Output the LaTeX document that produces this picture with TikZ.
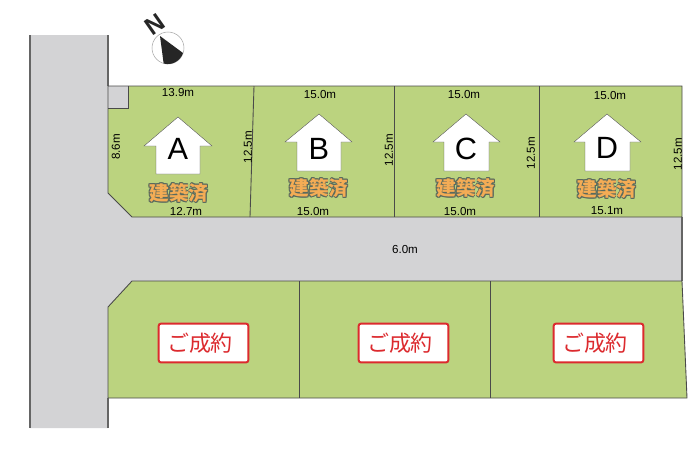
\documentclass[tikz,border=0pt]{standalone}
\usepackage{fontspec}
\setmainfont{Liberation Sans}
\newfontfamily\cjkfont{Noto Sans CJK JP}
\usepackage{tikz}
\definecolor{lotgreen}{HTML}{BBD37F}
\definecolor{roadgrey}{HTML}{D3D3D5}
\definecolor{edgegrey}{HTML}{4A4A4A}
\definecolor{soldred}{HTML}{DC2A2E}
\definecolor{builtorange}{HTML}{F4AC55}
\definecolor{builtedge}{HTML}{5A6A5E}
\tikzset{
  lot/.style={fill=lotgreen,draw=none},
  lotedge/.style={draw=edgegrey,line width=0.5pt},
  road/.style={fill=roadgrey,draw=none},
  roadedge/.style={draw=edgegrey!85,line width=0.85pt},
  house/.style={fill=white,draw=edgegrey,line width=0.2pt},
  letter/.style={inner sep=0pt,font=\fontsize{17.5}{18}\selectfont},
  dim/.style={inner sep=0pt,text=black,font=\fontsize{6.6}{7}\selectfont},
  soldbox/.style={draw=soldred,fill=white,line width=1.1pt,rounded corners=1.2pt,
    minimum width=51pt,minimum height=22pt,inner sep=0pt},
  soldtext/.style={inner sep=0pt,text=soldred,font=\cjkfont\fontsize{12.5}{13}\selectfont},
  built/.style={inner sep=0pt,font=\cjkfont\bfseries\fontsize{11.2}{12}\selectfont}
}
\newcommand{\builtlabel}[2]{%
  \foreach \dx/\dy in {-0.6/0,0.6/0,0/-0.6,0/0.6,-0.6/-0.6,0.6/-0.6,-0.6/0.6,0.6/0.6}
    \node [built,text=builtedge] at ([shift={(\dx,\dy)}]#2) {建築済};
  \node [built,text=builtorange] (#1) at (#2) {建築済};
}
\begin{document}
\begin{tikzpicture}[x=0.02cm,y=0.02cm]
\useasboundingbox (0,0) rectangle (700,-461);
% road
\fill [road] (30,-35) -- (108,-35) -- (108,-193) -- (132,-217) -- (682,-217) -- (682,-281) -- (132,-281) -- (108,-307) -- (108,-428) -- (30,-428) -- cycle;
\draw [roadedge] (30,-35) -- (30,-428);
\draw [roadedge] (108,-35) -- (108,-86);
\draw [roadedge] (108,-398) -- (108,-428);
\draw [roadedge] (682,-217) -- (682,-281);
% upper lots
\fill [lot] (108,-86) -- (682,-86) -- (682,-217) -- (132,-217) -- (108,-193) -- cycle;
\fill [road] (108,-86) rectangle (128,-108);
\draw [lotedge] (108,-108) -- (128,-108) -- (128,-86);
\draw [lotedge] (108,-86) -- (682,-86) -- (682,-217) -- (132,-217) -- (108,-193) -- cycle;
\draw [lotedge] (254,-86) -- (250,-217);
\draw [lotedge] (394,-86) -- (394,-217);
\draw [lotedge] (539,-86) -- (539,-217);
% lower lots
\fill [lot] (132,-281) -- (682,-281) -- (687,-398) -- (108,-398) -- (108,-307) -- cycle;
\draw [lotedge] (132,-281) -- (682,-281) -- (687,-398) -- (108,-398) -- (108,-307) -- cycle;
\draw [lotedge] (299,-281) -- (299,-398);
\draw [lotedge] (490,-281) -- (490,-398);
% compass
\draw [gray!70,line width=0.3pt,fill=white] (168,-48) circle (16);
\fill [black!85] (160,-36) -- (183,-53) arc (-18:-105:16) -- cycle;
\node [inner sep=0pt,rotate=35,font=\bfseries\fontsize{14}{14}\selectfont,text=black!85] (north) at (155,-24) {N};
% houses
\draw [house] (178,-117) -- (212,-146) -- (200,-146) -- (200,-174) -- (156,-174) -- (156,-146) -- (144,-146) -- cycle;
\draw [house] (319,-114) -- (352,-142) -- (341,-142) -- (341,-171) -- (297,-171) -- (297,-142) -- (285,-142) -- cycle;
\draw [house] (466,-114) -- (500,-142) -- (489,-142) -- (489,-171) -- (444,-171) -- (444,-142) -- (433,-142) -- cycle;
\draw [house] (607,-114) -- (641,-142) -- (630,-142) -- (630,-171) -- (585,-171) -- (585,-142) -- (574,-142) -- cycle;
\node [letter] (lotA) at (178,-149) {A};
\node [letter] (lotB) at (319,-149) {B};
\node [letter] (lotC) at (466,-149) {C};
\node [letter] (lotD) at (607,-148) {D};
\builtlabel{builtA}{179,-193}
\builtlabel{builtB}{319,-188}
\builtlabel{builtC}{466,-188}
\builtlabel{builtD}{607,-189}
% dimensions
\node [dim] (topA) at (178,-93) {13.9m};
\node [dim] (topB) at (320,-95) {15.0m};
\node [dim] (topC) at (464,-95) {15.0m};
\node [dim] (topD) at (610,-96) {15.0m};
\node [dim] (botA) at (186,-211) {12.7m};
\node [dim] (botB) at (313,-211) {15.0m};
\node [dim] (botC) at (460,-211) {15.0m};
\node [dim] (botD) at (607,-211) {15.1m};
\node [dim,rotate=90] (sideA) at (116,-147) {8.6m};
\node [dim,rotate=90] (sideAB) at (248,-147) {12.5m};
\node [dim,rotate=90] (sideBC) at (389,-150) {12.5m};
\node [dim,rotate=90] (sideCD) at (531,-153) {12.5m};
\node [dim,rotate=90] (sideD) at (678,-154) {12.5m};
\node [dim] (roadwidth) at (405,-249) {6.0m};
% sold plates
\node [soldbox] (soldE) at (203.5,-343) {};
\node [soldbox] (soldF) at (403.5,-343) {};
\node [soldbox] (soldG) at (598.5,-343) {};
\node [soldtext] (textE) at (200,-343) {ご成約};
\node [soldtext] (textF) at (400,-343) {ご成約};
\node [soldtext] (textG) at (595,-343) {ご成約};
\end{tikzpicture}
\end{document}
